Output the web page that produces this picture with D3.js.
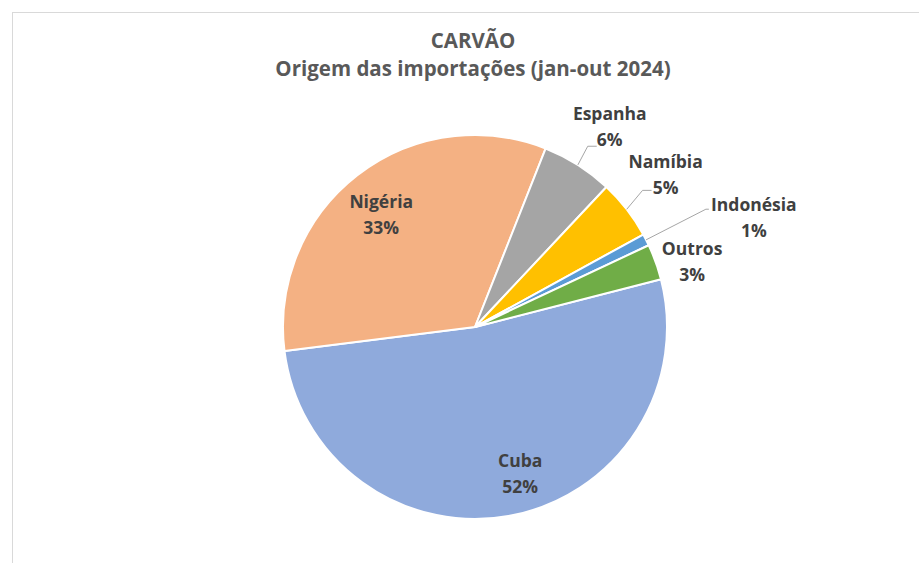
<!DOCTYPE html>
<html>
<head>
<meta charset="utf-8">
<script src="https://cdn.jsdelivr.net/npm/d3@7"></script>
<style>
  body { margin: 0; background: #fff; }
  text { font-family: "Open Sans", Lato, sans-serif; font-weight: bold; }
</style>
</head>
<body>
<script>
// data
var countries = ["Cuba", "Nigéria", "Espanha", "Namíbia", "Indonésia", "Outros"];
var shares = [52, 33, 6, 5, 1, 3];
var colors = ["#8faadc", "#f4b183", "#a5a5a5", "#ffc000", "#5b9bd5", "#70ad47"];
var titleLines = ["CARVÃO", "Origem das importações (jan-out 2024)"];

var w = 919, h = 563;
var cx = 475, cy = 327, R = 192;

// label placement: [angle in degrees, radius as fraction of R], leader end offset
var labelLayout = {
  "Cuba":      { a: 162.9, r: 0.80 },
  "Nigéria":   { a: 320.0, r: 0.76 },
  "Espanha":   { a: 34.0,  r: 1.255, leader: [-13, 19, -22] },
  "Namíbia":   { a: 51.4,  r: 1.27,  leader: [-14, 15.5, -23] },
  "Indonésia": { a: 68.6,  r: 1.56,  leader: [-45, -8.5, -48] },
  "Outros":    { a: 73.4,  r: 1.18 }
};

var dataset = countries.map(function(c, i) {
  return { name: c, value: shares[i], color: colors[i] };
});

var svg = d3.select("body").append("svg")
  .attr("width", w)
  .attr("height", h);

// chart frame
svg.append("rect")
  .attr("x", 12.5).attr("y", 12.5)
  .attr("width", w + 20).attr("height", h + 20)
  .attr("fill", "#fff")
  .attr("stroke", "#d9d9d9")
  .attr("stroke-width", 1);

svg.append("text")
  .attr("x", 473)
  .attr("text-anchor", "middle")
  .attr("fill", "#595959")
  .style("font-size", "20.5px")
  .selectAll("tspan")
  .data(titleLines)
  .enter().append("tspan")
  .attr("x", 473)
  .attr("y", function(d, i) { return 48 + i * 28; })
  .text(function(d) { return d; });

var rad = Math.PI / 180;
var pie = d3.pie()
  .sort(null)
  .value(function(d) { return d.value; })
  .startAngle(75.6 * rad)
  .endAngle(75.6 * rad + 2 * Math.PI);

var arc = d3.arc().innerRadius(0).outerRadius(R);

var g = svg.append("g")
  .attr("transform", "translate(" + cx + "," + cy + ")");

var arcs = pie(dataset);

g.selectAll("path")
  .data(arcs)
  .enter().append("path")
  .attr("d", arc)
  .attr("fill", function(d) { return d.data.color; })
  .attr("stroke", "#fff")
  .attr("stroke-width", 2)
  .attr("stroke-linejoin", "round");

function polar(angleDeg, r) {
  var a = angleDeg * rad;
  return [r * Math.sin(a), -r * Math.cos(a)];
}

// leader lines
arcs.forEach(function(d) {
  var lay = labelLayout[d.data.name];
  if (!lay.leader) return;
  var mid = (d.startAngle + d.endAngle) / 2 / rad;
  var s = polar(mid, R);
  var c = polar(lay.a, lay.r * R);
  var end = [c[0] + lay.leader[0], c[1] + lay.leader[1]];
  var elbow = [c[0] + lay.leader[2], c[1] + lay.leader[1]];
  g.append("polyline")
    .attr("points", [s, elbow, end].map(function(p) { return p.join(","); }).join(" "))
    .attr("fill", "none")
    .attr("stroke", "#a6a6a6")
    .attr("stroke-width", 1);
});

// labels
var labels = g.selectAll("text.lbl")
  .data(arcs)
  .enter().append("text")
  .attr("class", "lbl")
  .attr("text-anchor", "middle")
  .attr("fill", "#404040")
  .style("font-size", "17.5px");

labels.each(function(d) {
  var lay = labelLayout[d.data.name];
  var p = polar(lay.a, lay.r * R);
  var t = d3.select(this);
  t.append("tspan").attr("x", p[0]).attr("y", p[1] - 13 + 6).text(d.data.name);
  t.append("tspan").attr("x", p[0]).attr("y", p[1] + 13 + 6).text(d.data.value + "%");
});
</script>
</body>
</html>
